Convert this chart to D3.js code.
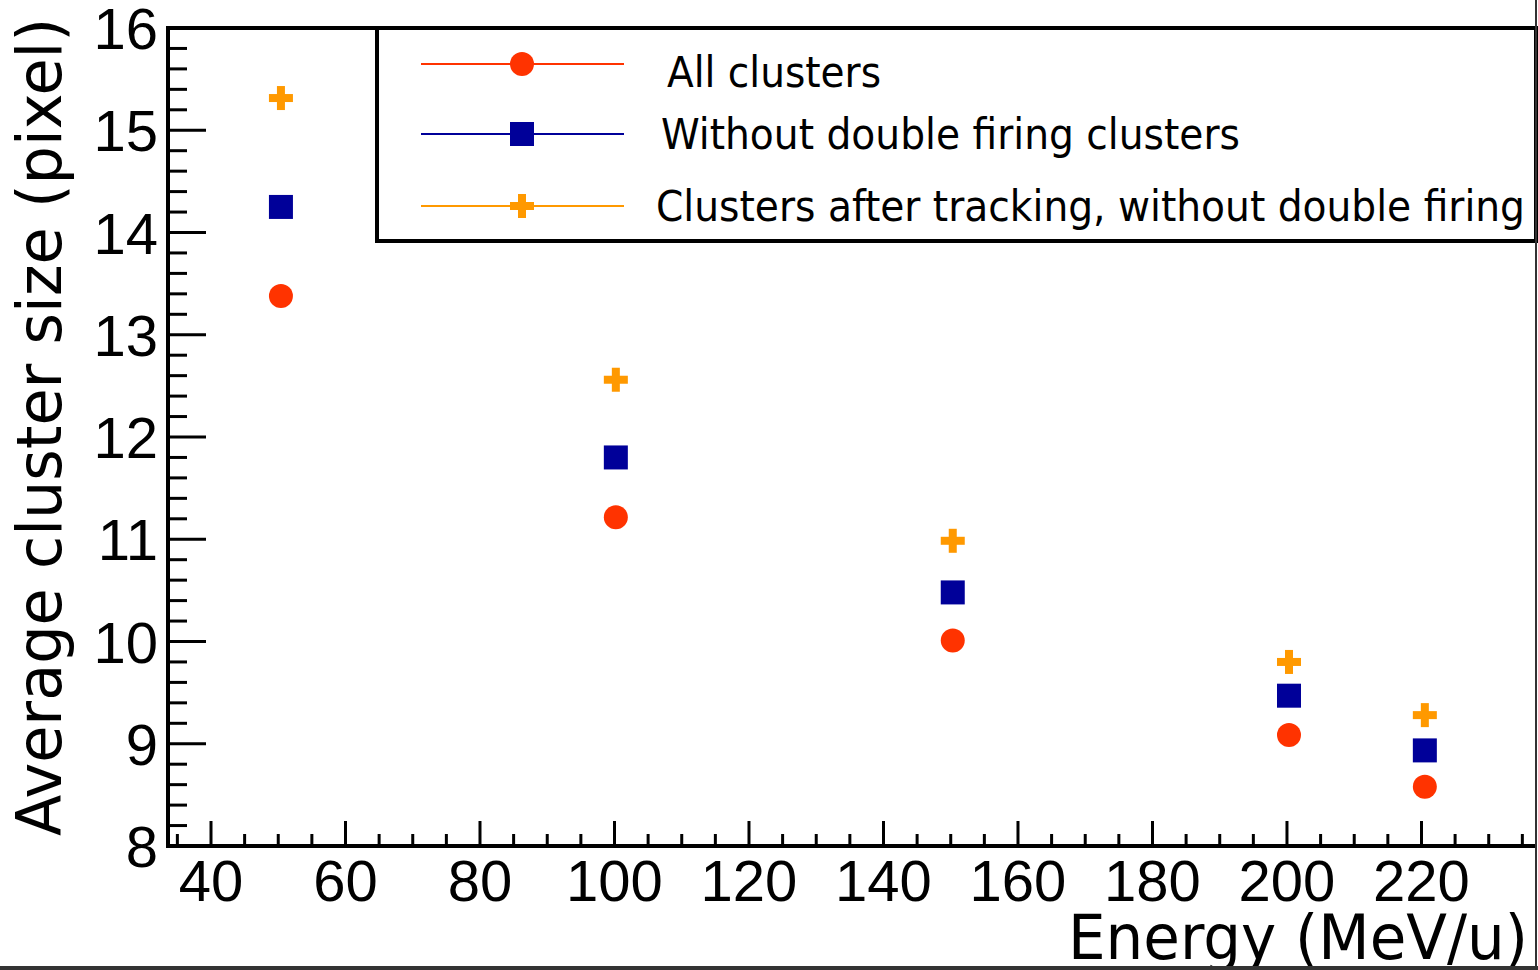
<!DOCTYPE html>
<html>
<head>
<meta charset="utf-8">
<script src="https://cdn.jsdelivr.net/npm/d3@7"></script>
<style>
  html, body { margin: 0; padding: 0; background: #fff; }
  svg { display: block; }
</style>
</head>
<body>
<svg id="chart" width="1538" height="970"></svg>
<script>
// ---- data ----
const energies = [50.4, 100.2, 150.3, 200.3, 220.5];
const allClusters = [13.38, 11.215, 10.01, 9.085, 8.58];
const withoutDouble = [14.25, 11.80, 10.48, 9.47, 8.935];
const afterTracking = [15.315, 12.56, 10.985, 9.80, 9.28];
const xTickLabels = [40, 60, 80, 100, 120, 140, 160, 180, 200, 220];
const yTickLabels = [8, 9, 10, 11, 12, 13, 14, 15, 16];
const seriesNames = ["All clusters", "Without double firing clusters", "Clusters after tracking, without double firing"];
const seriesColors = ["#ff3300", "#000099", "#ff9900"];
const seriesShapes = ["circle", "square", "cross"];

const svg = d3.select("#chart");
const pL = 168, pR = 1536, pT = 28, pB = 846;
const x = d3.scaleLinear().domain([33.606, 237.03]).range([pL, pR]);
const y = d3.scaleLinear().domain([8, 16]).range([pB, pT]);

const condensed = "'DejaVu Sans Condensed', 'DejaVu Sans', sans-serif";
const helv = "'Liberation Sans', Arial, Helvetica, sans-serif";

// ticks, y
const yMinor = d3.range(8, 16.0001, 0.2);
svg.append("g").selectAll("line").data(yMinor).join("line")
  .attr("x1", pL).attr("x2", d => pL + (Math.abs(d - Math.round(d)) < 1e-6 ? 38 : 19))
  .attr("y1", d => y(d)).attr("y2", d => y(d))
  .attr("stroke", "#000").attr("stroke-width", 3);

// ticks, x
const xMinor = d3.range(35, 236, 5);
svg.append("g").selectAll("line").data(xMinor).join("line")
  .attr("x1", d => x(d)).attr("x2", d => x(d))
  .attr("y1", pB).attr("y2", d => pB - (d % 20 === 0 ? 25 : 12))
  .attr("stroke", "#000").attr("stroke-width", 3);

// axis lines / frame
svg.append("line").attr("x1", pL).attr("x2", pL).attr("y1", pT - 2).attr("y2", pB + 2)
  .attr("stroke", "#000").attr("stroke-width", 4);
svg.append("line").attr("x1", pL - 2).attr("x2", pR).attr("y1", pB).attr("y2", pB)
  .attr("stroke", "#000").attr("stroke-width", 4);
svg.append("line").attr("x1", pL - 2).attr("x2", pR).attr("y1", pT).attr("y2", pT)
  .attr("stroke", "#000").attr("stroke-width", 4);

// tick labels
svg.append("g").selectAll("text").data(yTickLabels).join("text")
  .attr("x", 158).attr("y", d => y(d) + 21)
  .attr("text-anchor", "end")
  .attr("font-family", helv).attr("font-size", 58)
  .text(d => d);
svg.append("g").selectAll("text").data(xTickLabels).join("text")
  .attr("x", d => x(d)).attr("y", 901)
  .attr("text-anchor", "middle")
  .attr("font-family", helv).attr("font-size", 58)
  .text(d => d);

// axis titles
svg.append("text").attr("x", 1068).attr("y", 959)
  .attr("font-family", condensed).attr("font-size", 62)
  .attr("textLength", 460).attr("lengthAdjust", "spacingAndGlyphs")
  .text("Energy (MeV/u)");
svg.append("text").attr("transform", "translate(61,836) rotate(-90)")
  .attr("font-family", condensed).attr("font-size", 62)
  .attr("textLength", 818).attr("lengthAdjust", "spacingAndGlyphs")
  .text("Average cluster size (pixel)");

// marker drawer
function drawMarker(g, shape, color, cx, cy) {
  if (shape === "circle") {
    g.append("circle").attr("cx", cx).attr("cy", cy).attr("r", 12).attr("fill", color);
  } else if (shape === "square") {
    g.append("rect").attr("x", cx - 12).attr("y", cy - 12).attr("width", 24).attr("height", 24).attr("fill", color);
  } else {
    g.append("rect").attr("x", cx - 12).attr("y", cy - 4).attr("width", 24).attr("height", 8).attr("fill", color);
    g.append("rect").attr("x", cx - 4).attr("y", cy - 12).attr("width", 8).attr("height", 24).attr("fill", color);
  }
}

// data points
const allSeries = [allClusters, withoutDouble, afterTracking];
allSeries.forEach((vals, i) => {
  const g = svg.append("g");
  vals.forEach((v, j) => drawMarker(g, seriesShapes[i], seriesColors[i], x(energies[j]), y(v)));
});

// legend
svg.append("rect").attr("x", 377).attr("y", pT).attr("width", pR - 377).attr("height", 241 - pT)
  .attr("fill", "none").attr("stroke", "#000").attr("stroke-width", 4);
const legRows = [64, 134, 206];
const legTextX = [667, 661, 656];
const legTextY = [87, 149, 221];
const legTextLen = [214, 579, 869];
seriesNames.forEach((name, i) => {
  const g = svg.append("g");
  g.append("line").attr("x1", 421).attr("x2", 624).attr("y1", legRows[i]).attr("y2", legRows[i])
    .attr("stroke", seriesColors[i]).attr("stroke-width", 2);
  drawMarker(g, seriesShapes[i], seriesColors[i], 522, legRows[i]);
  g.append("text").attr("x", legTextX[i]).attr("y", legTextY[i])
    .attr("font-family", condensed).attr("font-size", 43)
    .attr("textLength", legTextLen[i]).attr("lengthAdjust", "spacingAndGlyphs")
    .text(name);
});

// outer image border (right, bottom)
svg.append("rect").attr("x", 1535).attr("y", 0).attr("width", 2).attr("height", 970).attr("fill", "#333");
svg.append("rect").attr("x", 0).attr("y", 966).attr("width", 1538).attr("height", 4).attr("fill", "#333");
</script>
</body>
</html>
